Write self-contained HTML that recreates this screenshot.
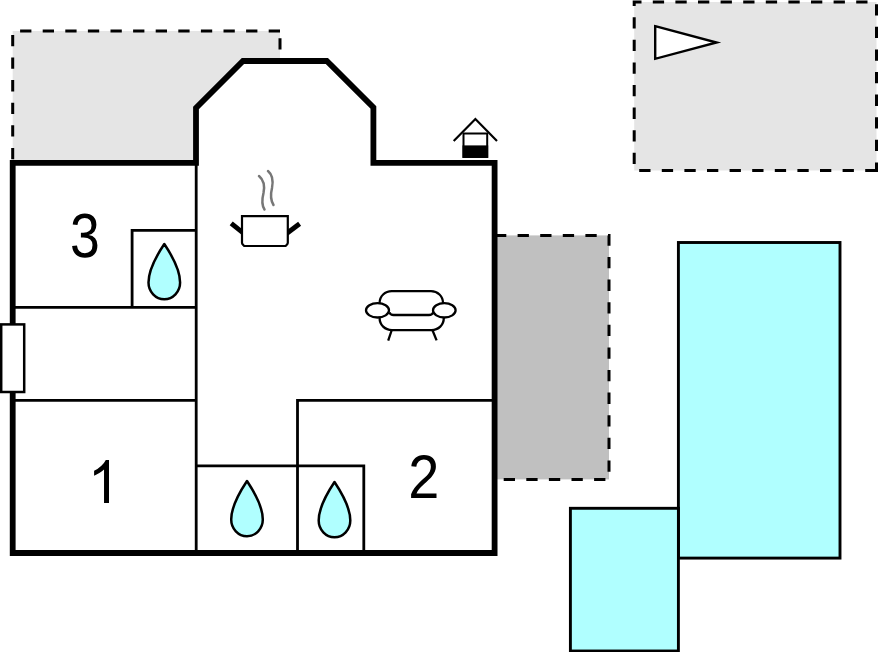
<!DOCTYPE html>
<html><head><meta charset="utf-8">
<style>
html,body{margin:0;padding:0;background:#fff;width:878px;height:652px;overflow:hidden}
svg{display:block}
text{font-family:"Liberation Sans",sans-serif}
</style></head>
<body>
<svg width="878" height="652" viewBox="0 0 878 652">
<!-- gray areas -->
<rect x="12.7" y="31" width="267.3" height="131.5" fill="#e5e5e5"/>
<g stroke="#000" stroke-width="3" fill="none" stroke-dasharray="11.3 11.3">
<path d="M280,31 H12.7 V162.5"/>
<path d="M280,162.5 V31" stroke-dashoffset="0"/>
</g>
<path d="M876.5,170.4 H634.2 V1.9 H876.5 Z" fill="#e5e5e5" stroke="#000" stroke-width="3" stroke-dasharray="11.3 11.3"/>
<path d="M655.2,26.2 L716.6,42.5 L655.2,58.8 Z" fill="#fff" stroke="#000" stroke-width="2.4" stroke-linejoin="miter"/>
<rect x="495" y="235.4" width="114" height="244" fill="#c0c0c0" stroke="#000" stroke-width="3" stroke-dasharray="11.3 11.3"/>

<!-- pools -->
<rect x="678.4" y="242.5" width="161.6" height="315.6" fill="#b0ffff" stroke="#000" stroke-width="2.9"/>
<rect x="570.4" y="508.3" width="108" height="142.7" fill="#b0ffff" stroke="#000" stroke-width="2.9"/>

<!-- building -->
<path d="M12.7,162.8 H196 V108 L243,61 H326.8 L373.4,107.4 V162.8 H494.6 V553 H12.7 Z" fill="#fff" stroke="#000" stroke-width="5.8"/>
<g stroke="#000" stroke-width="2.8" fill="none">
<path d="M196.2,162.8 V553"/>
<path d="M12.7,307.3 H196.2"/>
<path d="M12.7,400.3 H196.2"/>
<path d="M132.1,307.3 V230.3 H196.2"/>
<path d="M297.5,553 V400.4 H494.6"/>
<path d="M196.2,465.8 H363.8 V553"/>
</g>
<rect x="1.2" y="324.4" width="23" height="67.6" fill="#fff" stroke="#000" stroke-width="2.5"/>

<!-- drops -->
<g fill="#b0ffff" stroke="#000" stroke-width="2.5" stroke-linejoin="round">
<path transform="translate(164.3,244)" d="M0,0 C6,9 15.8,24 15.8,38.5 A15.8,16.7 0 0 1 -15.8,38.5 C-15.8,24 -6,9 0,0 Z"/>
<path transform="translate(247,481)" d="M0,0 C6,9 15.8,24 15.8,38.5 A15.8,16.7 0 0 1 -15.8,38.5 C-15.8,24 -6,9 0,0 Z"/>
<path transform="translate(334.5,482)" d="M0,0 C6,9 15.8,24 15.8,38.5 A15.8,16.7 0 0 1 -15.8,38.5 C-15.8,24 -6,9 0,0 Z"/>
</g>

<!-- numbers -->
<g fill="#000">
<path transform="matrix(0.026056,0,0,-0.030552,70.068,257.089)" d="M1049 389Q1049 194 925.0 87.0Q801 -20 571 -20Q357 -20 229.5 76.5Q102 173 78 362L264 379Q300 129 571 129Q707 129 784.5 196.0Q862 263 862 395Q862 510 773.5 574.5Q685 639 518 639H416V795H514Q662 795 743.5 859.5Q825 924 825 1038Q825 1151 758.5 1216.5Q692 1282 561 1282Q442 1282 368.5 1221.0Q295 1160 283 1049L102 1063Q122 1236 245.5 1333.0Q369 1430 563 1430Q775 1430 892.5 1331.5Q1010 1233 1010 1057Q1010 922 934.5 837.5Q859 753 715 723V719Q873 702 961.0 613.0Q1049 524 1049 389Z"/>
<path d="M109,503 H104.03 V469.5 Q102.24,471.3 99.33,473.1 Q96.42,474.9 94.1,475.8 V470.75 Q98.27,468.7 101.38,465.7 Q104.5,462.8 105.8,460 H109 Z"/>
<path transform="matrix(0.027224,0,0,-0.03,408.296,498)" d="M103 0V127Q154 244 227.5 333.5Q301 423 382.0 495.5Q463 568 542.5 630.0Q622 692 686.0 754.0Q750 816 789.5 884.0Q829 952 829 1038Q829 1154 761.0 1218.0Q693 1282 572 1282Q457 1282 382.5 1219.5Q308 1157 295 1044L111 1061Q131 1230 254.5 1330.0Q378 1430 572 1430Q785 1430 899.5 1329.5Q1014 1229 1014 1044Q1014 962 976.5 881.0Q939 800 865.0 719.0Q791 638 582 468Q467 374 399.0 298.5Q331 223 301 153H1036V0Z"/>
</g>

<!-- pot -->
<g stroke="#000" fill="none">
<path d="M231.2,223.4 L244,233.6" stroke-width="4.9"/>
<path d="M299.6,223.8 L286,234" stroke-width="4.9"/>
<path d="M242,216.1 H287.8 V242.8 Q287.8,243.8 286.8,244.8 L285.6,246 H244.2 L243,244.8 Q242,243.8 242,242.8 Z" fill="#fff" stroke-width="2.2"/>
</g>
<g stroke="#777" stroke-width="2.5" fill="none" stroke-linecap="round">
<path d="M259,176 C265,181 264.5,188 263.5,193 C262,199 261.5,205 264.5,209.5"/>
<path d="M268,171 C274,176 273,183 272,188 C270.5,194 270.5,200 273.5,205"/>
</g>

<!-- sofa -->
<g stroke="#000" stroke-width="2.3" fill="none">
<path d="M379.6,303 C379.6,296 385,291.2 391.8,291.2 H431 C437.6,291.2 443,296 443,303"/>
<path d="M389.4,312.3 Q390.4,315 393.6,315 H429 Q432.2,315 433.2,312.3"/>
<path d="M379.6,318 C379.6,325 385,330.1 392,330.1 H431.5 C438.5,330.1 443.8,325 443.8,318"/>
<ellipse cx="377.5" cy="310.3" rx="11.5" ry="7.2" fill="#fff"/>
<ellipse cx="444.3" cy="310.3" rx="11.3" ry="7.2" fill="#fff"/>
<path d="M391.6,330.5 L388.2,340.6"/>
<path d="M432.6,330.5 L436.6,340.4"/>
</g>

<!-- house icon -->
<g stroke="#000" fill="none">
<path d="M453.7,140.9 L475.4,119 L497,140.9" stroke-width="2.2"/>
<rect x="463.5" y="133.5" width="23.7" height="23.4" fill="#fff" stroke-width="2"/>
<rect x="462.5" y="145.4" width="25.7" height="12.5" fill="#000" stroke="none"/>
</g>
</svg>
</body></html>
